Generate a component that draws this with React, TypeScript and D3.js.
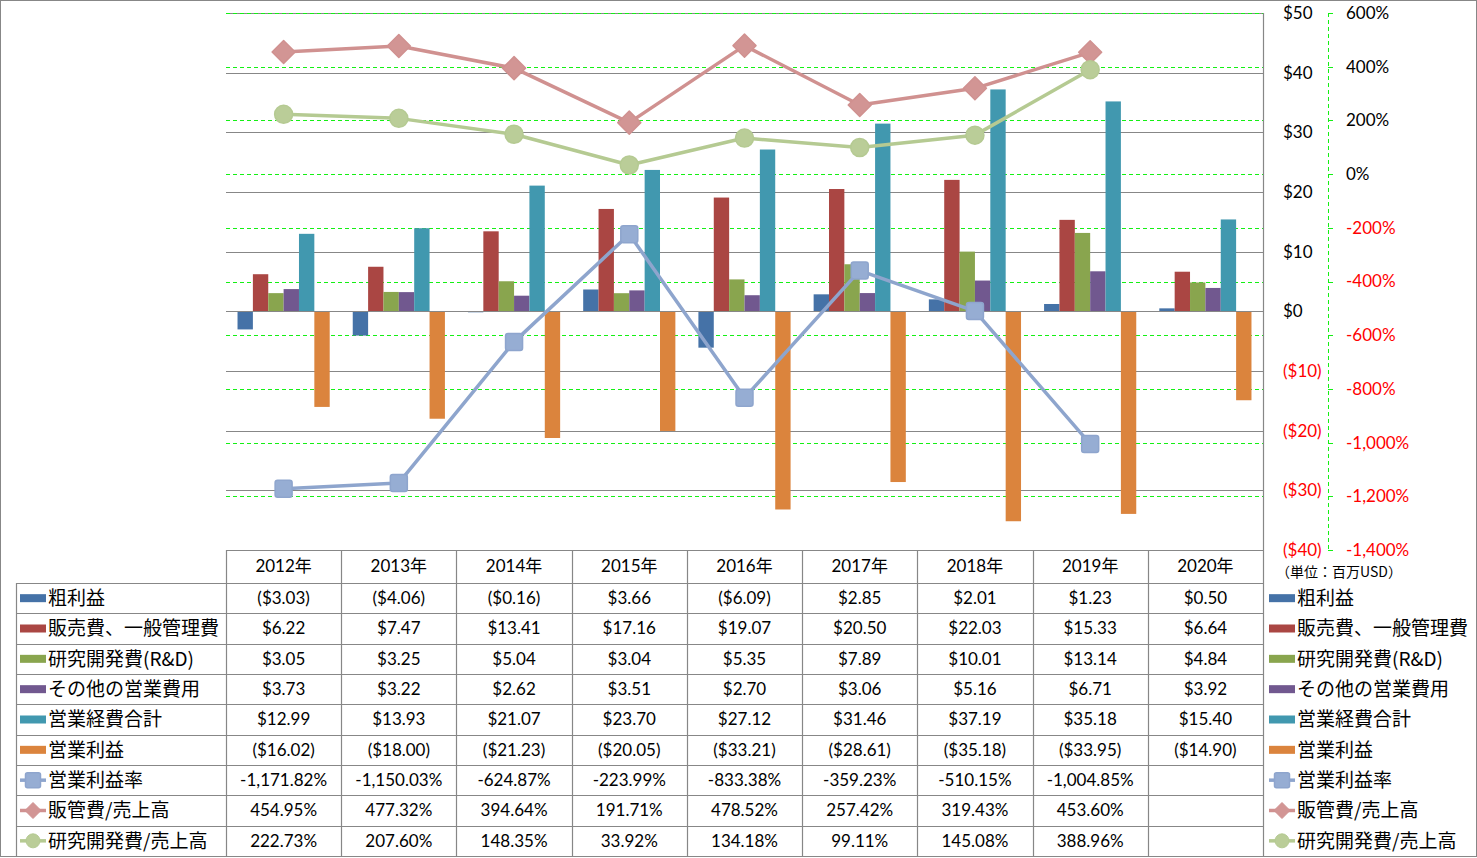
import React from "react";
import * as d3 from "d3";

const years = ["2012年", "2013年", "2014年", "2015年", "2016年", "2017年", "2018年", "2019年", "2020年"];

const grossProfit = [-3.03, -4.06, -0.16, 3.66, -6.09, 2.85, 2.01, 1.23, 0.5];
const sgaExpense = [6.22, 7.47, 13.41, 17.16, 19.07, 20.5, 22.03, 15.33, 6.64];
const rdExpense = [3.05, 3.25, 5.04, 3.04, 5.35, 7.89, 10.01, 13.14, 4.84];
const otherExpense = [3.73, 3.22, 2.62, 3.51, 2.7, 3.06, 5.16, 6.71, 3.92];
const totalOpex = [12.99, 13.93, 21.07, 23.7, 27.12, 31.46, 37.19, 35.18, 15.4];
const operatingIncome = [-16.02, -18.0, -21.23, -20.05, -33.21, -28.61, -35.18, -33.95, -14.9];

const opMargin = [-1171.82, -1150.03, -624.87, -223.99, -833.38, -359.23, -510.15, -1004.85, null];
const sgaRatio = [454.95, 477.32, 394.64, 191.71, 478.52, 257.42, 319.43, 453.6, null];
const rdRatio = [222.73, 207.6, 148.35, 33.92, 134.18, 99.11, 145.08, 388.96, null];

const primaryTicks = [50, 40, 30, 20, 10, 0, -10, -20, -30, -40];
const secondaryTicks = [600, 400, 200, 0, -200, -400, -600, -800, -1000, -1200, -1400];

const barSeries = [
  { name: "粗利益", values: grossProfit, color: "#4572A7" },
  { name: "販売費、一般管理費", values: sgaExpense, color: "#AA4643" },
  { name: "研究開発費(R&D)", values: rdExpense, color: "#89A54E" },
  { name: "その他の営業費用", values: otherExpense, color: "#71588F" },
  { name: "営業経費合計", values: totalOpex, color: "#4198AF" },
  { name: "営業利益", values: operatingIncome, color: "#DB843D" },
];

const lineSeries = [
  { name: "営業利益率", values: opMargin, color: "#8EA5CD", fill: "#96ADD3", marker: "square" },
  { name: "販管費/売上高", values: sgaRatio, color: "#D09190", fill: "#D29594", marker: "diamond" },
  { name: "研究開発費/売上高", values: rdRatio, color: "#B5CA92", fill: "#BACD98", marker: "circle" },
];

const FONT = "Lato, 'Noto Sans CJK JP', sans-serif";
const JP = "'Noto Sans CJK JP', Lato, sans-serif";

const locale = d3.formatLocale({ decimal: ".", thousands: ",", grouping: [3], currency: ["$", ""], minus: "-" });
const fmtMoney = (v: number) => (v < 0 ? `($${Math.abs(v).toFixed(2)})` : `$${v.toFixed(2)}`);
const fmtPct = (v: number | null) => (v == null ? "" : locale.format(",.2f")(v) + "%");
const fmtAxisMoney = (v: number) => (v < 0 ? `($${-v})` : `$${v}`);
const fmtAxisPct = (v: number) => locale.format(",")(v) + "%";

function Marker({ type, x, y, color, fill }: { type: string; x: number; y: number; color: string; fill: string }) {
  if (type === "square") {
    return <rect x={x - 8.5} y={y - 8.5} width={17} height={17} rx={2.5} fill={fill} stroke={color} strokeWidth={1.5} />;
  }
  if (type === "diamond") {
    const r = 11.5;
    return (
      <path
        d={`M${x},${y - r}L${x + r},${y}L${x},${y + r}L${x - r},${y}Z`}
        fill={fill}
        stroke={color}
        strokeWidth={1.5}
        strokeLinejoin="round"
      />
    );
  }
  return <circle cx={x} cy={y} r={9} fill={fill} stroke={color} strokeWidth={1.5} />;
}

export default function App() {
  const W = 1477;
  const H = 858;
  const left = 226;
  const right = 1263;
  const top = 13;
  const bottom = 550;

  const x = d3.scaleBand<string>().domain(years).range([left, right]).padding(0);
  const yP = d3.scaleLinear().domain([-40, 50]).range([bottom, top]);
  const yS = d3.scaleLinear().domain([-1400, 600]).range([bottom, top]);

  const bw = x.bandwidth();
  const barW = bw / 7.5;
  const groupOffset = barW * 0.75;

  const headerTop = 550;
  const tableTop = 583;
  const tableBottom = 856;
  const rowH = (tableBottom - tableTop) / 9;
  const tableLeft = 16;

  const rows = [
    ...barSeries.map((s) => ({ kind: "bar", name: s.name, color: s.color, fill: s.color, marker: "", cells: s.values.map(fmtMoney) })),
    ...lineSeries.map((s) => ({ kind: "line", name: s.name, color: s.color, fill: s.fill, marker: s.marker, cells: s.values.map(fmtPct) })),
  ];

  const grid = "#878787";
  const green = "#14F014";

  const legendKey = (r: any, kx: number, cy: number) =>
    r.kind === "bar" ? (
      <rect x={kx} y={cy - 4} width={26} height={8} fill={r.color} />
    ) : (
      <g>
        <line x1={kx} x2={kx + 26} y1={cy} y2={cy} stroke={r.color} strokeWidth={3.5} />
        {r.marker === "square" ? (
          <rect x={kx + 13 - 7.5} y={cy - 7.5} width={15} height={15} rx={2} fill={r.fill} stroke={r.color} strokeWidth={1.5} />
        ) : r.marker === "diamond" ? (
          <path d={`M${kx + 13},${cy - 8}L${kx + 21},${cy}L${kx + 13},${cy + 8}L${kx + 5},${cy}Z`} fill={r.fill} stroke={r.color} />
        ) : (
          <circle cx={kx + 13} cy={cy} r={7} fill={r.fill} stroke={r.color} />
        )}
      </g>
    );

  return (
    <svg width={W} height={H} style={{ position: "absolute", left: 0, top: 0, background: "#fff" }}>
      <rect x={0.5} y={0.5} width={1476} height={856} fill="#fff" stroke={grid} strokeWidth={1} />

      {/* primary gridlines */}
      {primaryTicks.map((t) => (
        <line key={"gp" + t} x1={left} x2={right} y1={Math.round(yP(t)) + 0.5} y2={Math.round(yP(t)) + 0.5} stroke={grid} strokeWidth={1.2} />
      ))}
      {/* secondary gridlines */}
      {secondaryTicks.map((t) => (
        <line key={"gs" + t} x1={left} x2={right} y1={Math.round(yS(t)) + 0.5} y2={Math.round(yS(t)) + 0.5} stroke={green} strokeWidth={1} strokeDasharray="4 3" />
      ))}

      {/* bars */}
      {barSeries.map((s, si) =>
        s.values.map((v, i) => {
          const bx = (x(years[i]) as number) + groupOffset + si * barW;
          const y0 = yP(0);
          const y1 = yP(v);
          return <rect key={s.name + i} x={bx} y={Math.min(y0, y1)} width={barW} height={Math.abs(y1 - y0)} fill={s.color} />;
        })
      )}

      {/* zero line on top of bars */}
      <line x1={left} x2={right} y1={Math.round(yP(0)) + 0.5} y2={Math.round(yP(0)) + 0.5} stroke={grid} strokeWidth={1.2} />

      {/* lines */}
      {lineSeries.map((s) => {
        const pts = s.values
          .map((v, i) => ({ v, i }))
          .filter((d) => d.v != null) as { v: number; i: number }[];
        const gen = d3
          .line<{ v: number; i: number }>()
          .x((d) => (x(years[d.i]) as number) + bw / 2)
          .y((d) => yS(d.v));
        return (
          <g key={s.name}>
            <path d={gen(pts) || ""} fill="none" stroke={s.color} strokeWidth={3.5} strokeLinejoin="round" />
            {pts.map((d) => (
              <Marker key={d.i} type={s.marker} x={(x(years[d.i]) as number) + bw / 2} y={yS(d.v)} color={s.color} fill={s.fill} />
            ))}
          </g>
        );
      })}

      {/* right border of plot / table */}
      <line x1={right + 0.5} x2={right + 0.5} y1={top} y2={tableBottom} stroke={grid} strokeWidth={1.2} />

      {/* primary axis labels */}
      {primaryTicks.map((t) => (
        <text key={"lp" + t} x={1283} y={yP(t)} dy="0.35em" fontFamily={FONT} fontSize={17} fill={t < 0 ? "#FF0000" : "#000"}>
          {fmtAxisMoney(t)}
        </text>
      ))}

      {/* secondary axis */}
      <line x1={1328.5} x2={1328.5} y1={top} y2={bottom} stroke={green} strokeWidth={1} strokeDasharray="4 3" />
      {secondaryTicks.map((t) => (
        <g key={"ls" + t}>
          <line x1={1328} x2={1333} y1={Math.round(yS(t)) + 0.5} y2={Math.round(yS(t)) + 0.5} stroke={green} strokeWidth={1} />
          <text x={1346} y={yS(t)} dy="0.35em" fontFamily={FONT} fontSize={17} fill={t < 0 ? "#FF0000" : "#000"}>
            {fmtAxisPct(t)}
          </text>
        </g>
      ))}
      <text x={1276} y={572} dy="0.35em" fontFamily={JP} fontSize={14} fill="#000">
        （単位：百万USD）
      </text>

      {/* table grid */}
      <line x1={left} x2={right} y1={headerTop + 0.5} y2={headerTop + 0.5} stroke={grid} strokeWidth={1.2} />
      {d3.range(10).map((k) => {
        const yy = Math.round(tableTop + k * rowH) + 0.5;
        return <line key={"rl" + k} x1={tableLeft} x2={right} y1={yy} y2={yy} stroke={grid} strokeWidth={1.2} />;
      })}
      {years.map((yr) => (
        <line key={"cl" + yr} x1={Math.round(x(yr) as number) + 0.5} x2={Math.round(x(yr) as number) + 0.5} y1={headerTop} y2={tableBottom} stroke={grid} strokeWidth={1.2} />
      ))}
      <line x1={tableLeft + 0.5} x2={tableLeft + 0.5} y1={tableTop} y2={tableBottom} stroke={grid} strokeWidth={1.2} />

      {/* header */}
      {years.map((yr) => (
        <text key={"h" + yr} x={(x(yr) as number) + bw / 2} y={(headerTop + tableTop) / 2} dy="0.35em" textAnchor="middle" fontFamily={FONT} fontSize={17} fill="#000">
          {yr}
        </text>
      ))}

      {/* rows */}
      {rows.map((r, ri) => {
        const cy = tableTop + ri * rowH + rowH / 2;
        return (
          <g key={"row" + ri}>
            {legendKey(r, 20, cy)}
            <text x={48} y={cy} dy="0.36em" fontFamily={JP} fontSize={19} fill="#000">
              {r.name}
            </text>
            {r.cells.map((c: string, ci: number) => (
              <text key={ci} x={(x(years[ci]) as number) + bw / 2} y={cy} dy="0.35em" textAnchor="middle" fontFamily={FONT} fontSize={17} fill="#000">
                {c}
              </text>
            ))}
            {legendKey(r, 1269, cy)}
            <text x={1297} y={cy} dy="0.36em" fontFamily={JP} fontSize={19} fill="#000">
              {r.name}
            </text>
          </g>
        );
      })}
    </svg>
  );
}
